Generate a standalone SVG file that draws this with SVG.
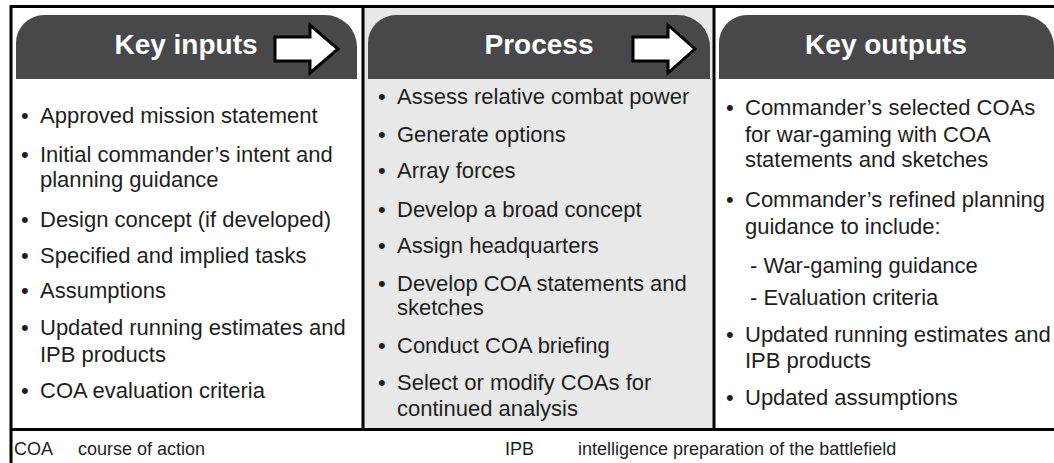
<svg xmlns="http://www.w3.org/2000/svg" width="1054" height="463" viewBox="0 0 1054 463">
<defs>
<style>
.hdr{fill:#48484b}
.ttl{font-family:"Liberation Sans",Arial,sans-serif;font-weight:bold;font-size:28px;fill:#ffffff;text-anchor:middle}
.t{font-family:"Liberation Sans",Arial,sans-serif;font-size:22px;fill:#1e1e1e}
.ft{font-family:"Liberation Sans",Arial,sans-serif;font-size:18px;fill:#1e1e1e}
.ln{stroke:#000;stroke-width:3;fill:none}
.arrow{fill:#fff;stroke:#000;stroke-width:3;stroke-linejoin:miter}
</style>
</defs>
<rect x="0" y="0" width="1054" height="463" fill="#fff"/>
<rect x="364" y="6" width="350" height="423" fill="#e8e8e8"/>

<g id="key-inputs">
<path class="hdr" d="M16,79 V43 A28,28 0 0 1 44,15 H325 A32,32 0 0 1 357,47 V79 Z"/>
<text class="ttl" x="186" y="54">Key inputs</text>
<path class="arrow" d="M275,37 H310 V25 L338,49 L310,73 V61 H275 Z"/>
<g class="t">
<text x="21" y="123">•</text><text x="40" y="123">Approved mission statement</text>
<text x="21" y="162">•</text><text x="40" y="162">Initial commander’s intent and</text>
<text x="40" y="187">planning guidance</text>
<text x="21" y="227">•</text><text x="40" y="227">Design concept (if developed)</text>
<text x="21" y="263">•</text><text x="40" y="263">Specified and implied tasks</text>
<text x="21" y="298">•</text><text x="40" y="298">Assumptions</text>
<text x="21" y="335">•</text><text x="40" y="335">Updated running estimates and</text>
<text x="40" y="362">IPB products</text>
<text x="21" y="398">•</text><text x="40" y="398">COA evaluation criteria</text>
</g>
</g>

<g id="process">
<path class="hdr" d="M368,79 V43 A28,28 0 0 1 396,15 H678 A32,32 0 0 1 710,47 V79 Z"/>
<text class="ttl" x="539" y="54">Process</text>
<path class="arrow" d="M633,37 H668 V25 L695,49 L668,73 V61 H633 Z"/>
<g class="t">
<text x="378" y="104">•</text><text x="397" y="104">Assess relative combat power</text>
<text x="378" y="142">•</text><text x="397" y="142">Generate options</text>
<text x="378" y="178">•</text><text x="397" y="178">Array forces</text>
<text x="378" y="217">•</text><text x="397" y="217">Develop a broad concept</text>
<text x="378" y="253">•</text><text x="397" y="253">Assign headquarters</text>
<text x="378" y="291">•</text><text x="397" y="291">Develop COA statements and</text>
<text x="397" y="315">sketches</text>
<text x="378" y="353">•</text><text x="397" y="353">Conduct COA briefing</text>
<text x="378" y="390">•</text><text x="397" y="390">Select or modify COAs for</text>
<text x="397" y="416">continued analysis</text>
</g>
</g>

<g id="key-outputs">
<path class="hdr" d="M719,79 V43 A28,28 0 0 1 747,15 H1022 A32,32 0 0 1 1054,47 V79 Z"/>
<text class="ttl" x="886" y="54">Key outputs</text>
<g class="t">
<text x="726" y="115">•</text><text x="745" y="115">Commander’s selected COAs</text>
<text x="745" y="142">for war-gaming with COA</text>
<text x="745" y="167">statements and sketches</text>
<text x="726" y="207">•</text><text x="745" y="207">Commander’s refined planning</text>
<text x="745" y="234">guidance to include:</text>
<text x="750" y="273">- War-gaming guidance</text>
<text x="750" y="305">- Evaluation criteria</text>
<text x="726" y="342">•</text><text x="745" y="342">Updated running estimates and</text>
<text x="745" y="368">IPB products</text>
<text x="726" y="405">•</text><text x="745" y="405">Updated assumptions</text>
</g>
</g>

<g id="connectors">
<path class="ln" d="M11,463 V6.5 H1054"/>
<path class="ln" d="M363,6 V429"/>
<path class="ln" d="M714,6 V429"/>
<path class="ln" d="M11,429.5 H1054"/>
</g>

<g id="legend">
<text class="ft" x="14" y="455">COA</text>
<text class="ft" x="78" y="455">course of action</text>
<text class="ft" x="505" y="455">IPB</text>
<text class="ft" x="578" y="455">intelligence preparation of the battlefield</text>
</g>
</svg>
